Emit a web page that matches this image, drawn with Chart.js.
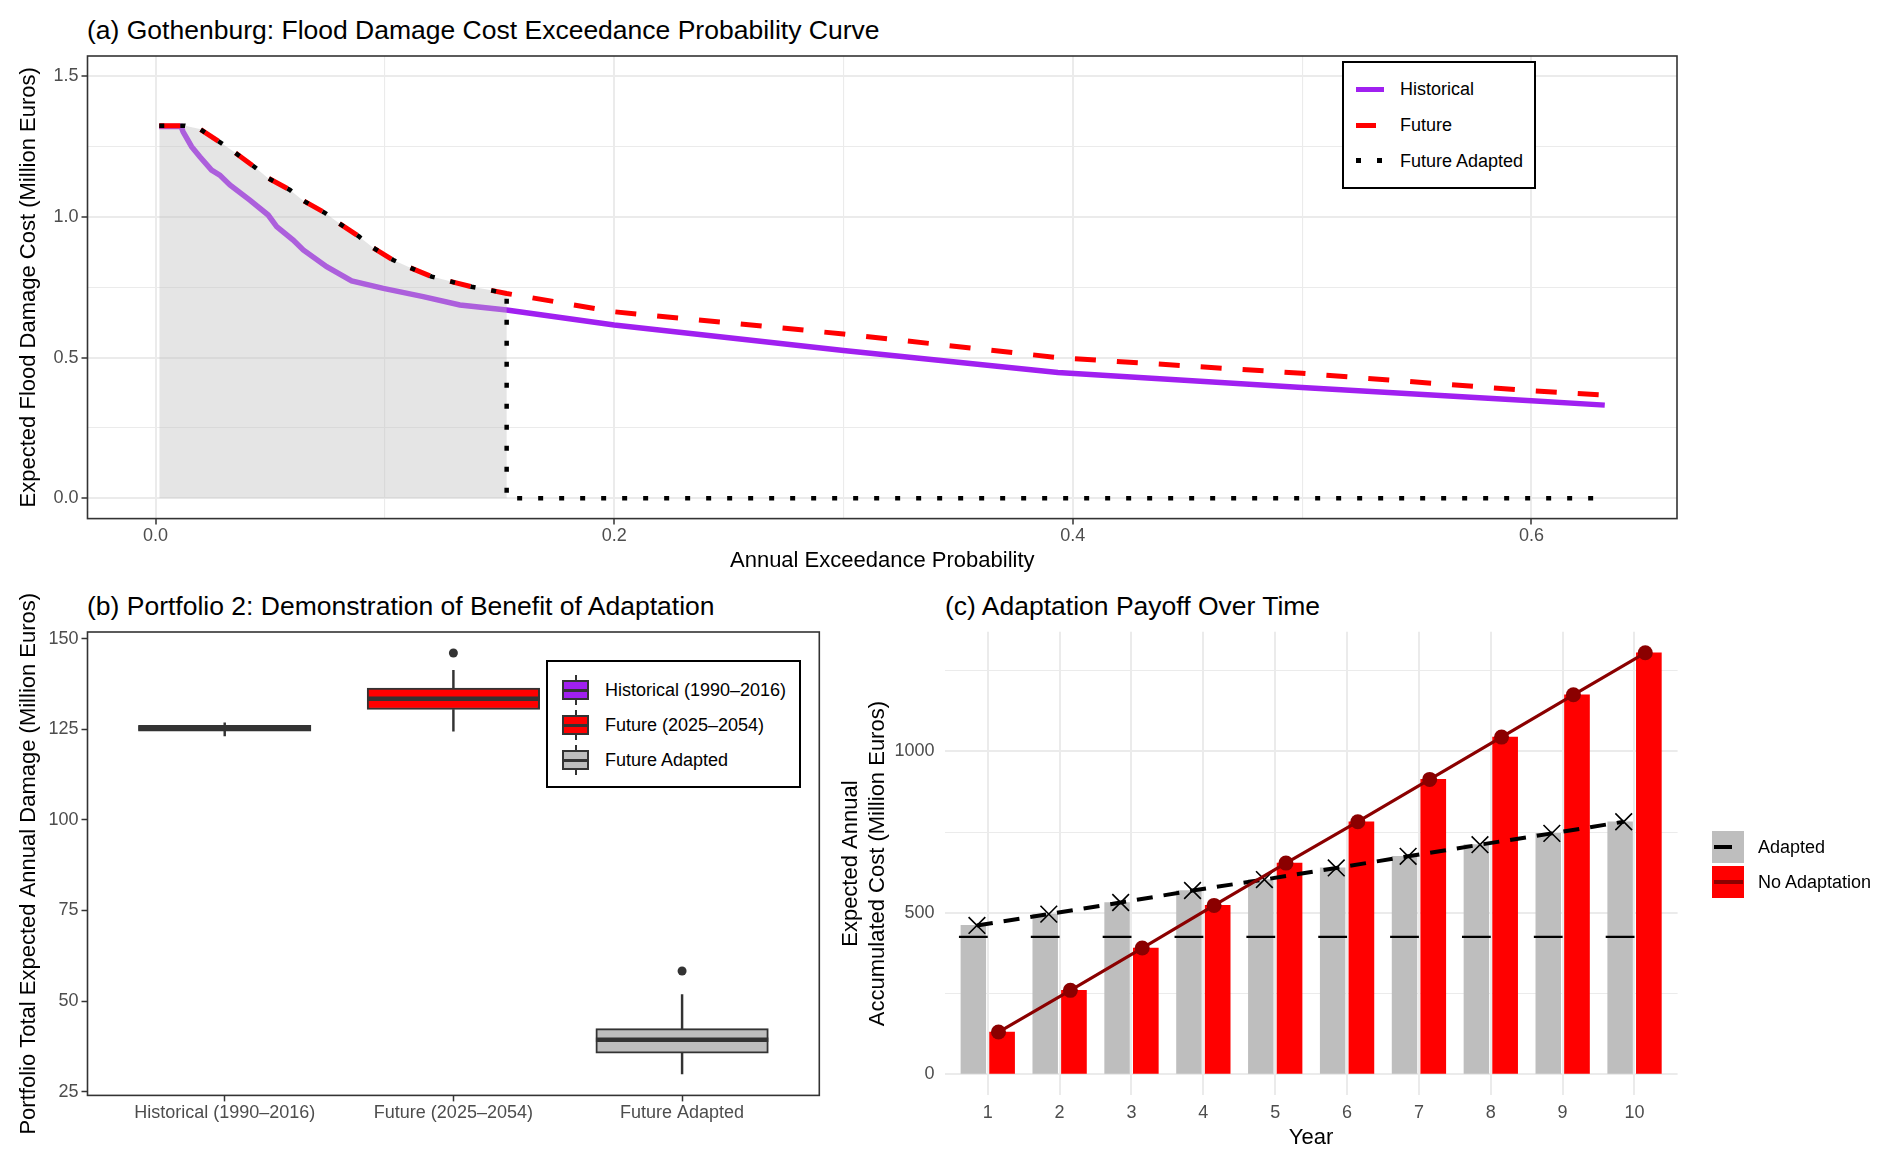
<!DOCTYPE html>
<html><head><meta charset="utf-8">
<script src="https://cdn.jsdelivr.net/npm/chart.js@4.4.1/dist/chart.umd.min.js"></script>
<style>
html,body{margin:0;padding:0;background:#fff;}
body{width:1892px;height:1164px;position:relative;overflow:hidden;font-family:"Liberation Sans",Arial,Helvetica,sans-serif;}
canvas{position:absolute;}
.t{position:absolute;font-size:26.5px;line-height:30px;white-space:nowrap;color:#000;}
.leg{position:absolute;border:2px solid #000;box-sizing:border-box;background:#fff;}
.lt{position:absolute;font-size:18px;line-height:20px;white-space:nowrap;color:#000;}
.k{position:absolute;box-sizing:border-box;}
</style></head><body>
<div class="t" style="left:87px;top:15px">(a) Gothenburg: Flood Damage Cost Exceedance Probability Curve</div>
<div class="t" style="left:87px;top:591px">(b) Portfolio 2: Demonstration of Benefit of Adaptation</div>
<div class="t" style="left:945px;top:591px">(c) Adaptation Payoff Over Time</div>
<canvas id="ca" width="1700" height="580" style="left:0;top:0"></canvas>
<canvas id="cb" width="840" height="579" style="left:0;top:585px"></canvas>
<canvas id="cc" width="1092" height="553" style="left:800px;top:611.2px"></canvas>

<!-- legend (a) -->
<div class="leg" style="left:1342px;top:61px;width:194px;height:128px"></div>
<div class="k" style="left:1356px;top:86.5px;width:28px;height:5px;background:#A020F0"></div>
<div class="k" style="left:1356px;top:122.5px;width:20px;height:5px;background:#FF0000"></div>
<div class="k" style="left:1356px;top:158px;width:5px;height:5px;background:#000"></div>
<div class="k" style="left:1377px;top:158px;width:5px;height:5px;background:#000"></div>
<div class="lt" style="left:1400px;top:79px">Historical</div>
<div class="lt" style="left:1400px;top:115px">Future</div>
<div class="lt" style="left:1400px;top:151px">Future Adapted</div>

<!-- legend (b) -->
<div class="leg" style="left:546px;top:660px;width:255px;height:128px"></div>
<div class="k" style="left:574.5px;top:675px;width:2px;height:30px;background:#333"></div>
<div class="k" style="left:561.7px;top:680px;width:27.6px;height:20px;background:#A020F0;border:2px solid #333"></div>
<div class="k" style="left:561.7px;top:688.5px;width:27.6px;height:3px;background:#333"></div>
<div class="k" style="left:574.5px;top:710px;width:2px;height:30px;background:#333"></div>
<div class="k" style="left:561.7px;top:715px;width:27.6px;height:20px;background:#FF0000;border:2px solid #333"></div>
<div class="k" style="left:561.7px;top:723.5px;width:27.6px;height:3px;background:#333"></div>
<div class="k" style="left:574.5px;top:745px;width:2px;height:30px;background:#333"></div>
<div class="k" style="left:561.7px;top:750px;width:27.6px;height:20px;background:#BEBEBE;border:2px solid #333"></div>
<div class="k" style="left:561.7px;top:758.5px;width:27.6px;height:3px;background:#333"></div>
<div class="lt" style="left:605px;top:680px">Historical (1990–2016)</div>
<div class="lt" style="left:605px;top:715px">Future (2025–2054)</div>
<div class="lt" style="left:605px;top:750px">Future Adapted</div>

<!-- legend (c) -->
<div class="k" style="left:1712px;top:831px;width:32px;height:31.5px;background:#BEBEBE"></div>
<div class="k" style="left:1714px;top:845px;width:18px;height:3.5px;background:#000"></div>
<div class="k" style="left:1712px;top:866px;width:32px;height:31.5px;background:#FF0000"></div>
<div class="k" style="left:1714px;top:880px;width:29px;height:3.5px;background:#8B0000"></div>
<div class="lt" style="left:1758px;top:837px">Adapted</div>
<div class="lt" style="left:1758px;top:872px">No Adaptation</div>

<script>
// ---------------- DATA ----------------
// (a) exceedance probability curves
const histAEP = [0.0016, 0.0111, 0.012, 0.0157, 0.0193, 0.0244, 0.028, 0.0324, 0.0411, 0.0491, 0.0528, 0.060, 0.0644, 0.0746, 0.0855, 0.0993, 0.1167, 0.1327, 0.1531, 0.2, 0.3, 0.3935, 0.5, 0.6, 0.632];
const histCost = [1.322, 1.322, 1.303, 1.25, 1.214, 1.167, 1.149, 1.114, 1.060, 1.007, 0.966, 0.918, 0.883, 0.823, 0.773, 0.746, 0.717, 0.687, 0.669, 0.616, 0.525, 0.447, 0.394, 0.347, 0.331];
const futAEP = [0.0016, 0.0128, 0.0193, 0.0288, 0.0346, 0.0433, 0.0491, 0.0586, 0.0644, 0.0738, 0.0796, 0.0888, 0.0946, 0.1036, 0.1106, 0.1204, 0.1276, 0.1378, 0.1458, 0.1531, 0.2, 0.3, 0.3935, 0.5, 0.6, 0.632];
const futCost = [1.3247, 1.3247, 1.313, 1.262, 1.229, 1.177, 1.138, 1.096, 1.058, 1.015, 0.980, 0.930, 0.892, 0.847, 0.821, 0.788, 0.773, 0.752, 0.740, 0.728, 0.663, 0.584, 0.500, 0.444, 0.382, 0.367];
const adaptAEP = [0.0016, 0.0128, 0.0193, 0.0288, 0.0346, 0.0433, 0.0491, 0.0586, 0.0644, 0.0738, 0.0796, 0.0888, 0.0946, 0.1036, 0.1106, 0.1204, 0.1276, 0.1378, 0.1458, 0.1531, 0.1531, 0.632];
const adaptCost = [1.3247, 1.3247, 1.313, 1.262, 1.229, 1.177, 1.138, 1.096, 1.058, 1.015, 0.980, 0.930, 0.892, 0.847, 0.821, 0.788, 0.773, 0.752, 0.740, 0.728, 0, 0];
const aXMajor = [0, 0.2, 0.4, 0.6], aXLabels = ['0.0', '0.2', '0.4', '0.6'], aXMinor = [0.1, 0.3, 0.5];
const aYMajor = [0, 0.5, 1.0, 1.5], aYLabels = ['0.0', '0.5', '1.0', '1.5'], aYMinor = [0.25, 0.75, 1.25];

// (b) box plots
const boxCategories = ['Historical (1990–2016)', 'Future (2025–2054)', 'Future Adapted'];
const boxLow = [123.2, 124.5, 29.9];
const boxQ1 = [124.5, 130.5, 35.6];
const boxMedian = [125.3, 133.5, 39.3];
const boxQ3 = [126.1, 136.4, 42.4];
const boxHigh = [126.8, 141.3, 51.8];
const boxOutlier = [null, 146.1, 58.3];
const bYMajor = [25, 50, 75, 100, 125, 150], bYLabels = ['25', '50', '75', '100', '125', '150'];

// (c) payoff over time
const years = [1, 2, 3, 4, 5, 6, 7, 8, 9, 10];
const adaptedAccum = [461, 496, 532, 569, 603, 639, 675, 711, 746, 782];
const noAdaptAccum = [131, 260, 391, 523, 654, 782, 913, 1044, 1175, 1305];
const upfrontCost = [425.5, 425.5, 425.5, 425.5, 425.5, 425.5, 425.5, 425.5, 425.5, 425.5];
const cYMajor = [0, 500, 1000], cYLabels = ['0', '500', '1000'], cYMinor = [250, 750, 1250];

// ---------------- HELPERS ----------------
Chart.defaults.font.family = '"Liberation Sans", Arial, Helvetica, sans-serif';
Chart.defaults.animation = false;
const TICKFONT = {size: 18};
const TICKCOL = '#4D4D4D';
const GRIDCOL = '#EBEBEB';
const near = (a, b) => Math.abs(a - b) < 1e-9;
const isIn = (arr, v) => arr.some(m => near(m, v));
const labelFor = (majors, labels) => (v) => { const i = majors.findIndex(m => near(m, v)); return i >= 0 ? labels[i] : ''; };
const setTicks = (vals) => (scale) => { scale.ticks = vals.slice().sort((a, b) => a - b).map(v => ({value: v})); };
const xy = (xs, ys) => xs.map((x, i) => ({x: x, y: ys[i]}));

const boxBorder = {
  id: 'boxBorder',
  afterDatasetsDraw(chart, args, opts) {
    if (!opts || !opts.draw) return;
    const {ctx, chartArea: a} = chart;
    ctx.save();
    ctx.strokeStyle = opts.color; ctx.lineWidth = opts.width;
    ctx.strokeRect(a.left, a.top, a.right - a.left, a.bottom - a.top);
    ctx.restore();
  }
};

// ---------------- PANEL A ----------------
new Chart(document.getElementById('ca'), {
  type: 'line',
  data: {datasets: [
    {label: 'Historical', data: xy(histAEP, histCost), borderColor: '#A020F0', borderWidth: 5.5, pointRadius: 0, tension: 0, order: 4},
    {label: 'ribbon', data: xy(adaptAEP, adaptCost), borderColor: 'rgba(0,0,0,0)', borderWidth: 0.01, pointRadius: 0, fill: 'origin', backgroundColor: 'rgba(190,190,190,0.4)', order: 3},
    {label: 'Future', data: xy(futAEP, futCost), borderColor: '#FF0000', borderWidth: 5, borderDash: [21, 21], borderCapStyle: 'butt', pointRadius: 0, order: 2},
    {label: 'Future Adapted', data: xy(adaptAEP, adaptCost), borderColor: '#000000', borderWidth: 4.5, borderDash: [5, 16], borderCapStyle: 'butt', pointRadius: 0, order: 1}
  ]},
  options: {
    responsive: false, animation: false, events: [],
    layout: {autoPadding: false, padding: {left: 0, top: 56, right: 23, bottom: 0}},
    plugins: {legend: {display: false}, tooltip: {enabled: false}, title: {display: false},
      boxBorder: {draw: true, color: '#333333', width: 1.6}},
    scales: {
      x: {type: 'linear', min: -0.0297, max: 0.6635, offset: false,
        afterBuildTicks: setTicks(aXMajor.concat(aXMinor)),
        afterFit: (s) => { s.height = 61.4; },
        border: {display: false},
        grid: {color: GRIDCOL, lineWidth: (c) => c.tick && isIn(aXMajor, c.tick.value) ? 2 : 1.1,
          drawTicks: true, tickLength: 6, tickWidth: 1.5,
          tickColor: (c) => c.tick && isIn(aXMajor, c.tick.value) ? '#333333' : 'rgba(0,0,0,0)'},
        ticks: {autoSkip: false, maxRotation: 0, font: TICKFONT, color: TICKCOL, padding: 1, callback: labelFor(aXMajor, aXLabels)},
        title: {display: true, text: 'Annual Exceedance Probability', color: '#000', font: {size: 22}, padding: {top: 0, bottom: 5.8}}
      },
      y: {type: 'linear', min: -0.0725, max: 1.5725,
        afterBuildTicks: setTicks(aYMajor.concat(aYMinor)),
        afterFit: (s) => { s.width = 87.5; },
        border: {display: false},
        grid: {color: GRIDCOL, lineWidth: (c) => c.tick && isIn(aYMajor, c.tick.value) ? 2 : 1.1,
          drawTicks: true, tickLength: 6, tickWidth: 1.5,
          tickColor: (c) => c.tick && isIn(aYMajor, c.tick.value) ? '#333333' : 'rgba(0,0,0,0)'},
        ticks: {autoSkip: false, font: TICKFONT, color: TICKCOL, padding: 3, callback: labelFor(aYMajor, aYLabels)},
        title: {display: true, text: 'Expected Flood Damage Cost (Million Euros)', color: '#000', font: {size: 22}, padding: {top: 15.8, bottom: 0}}
      }
    }
  },
  plugins: [boxBorder]
});

// ---------------- PANEL B ----------------
const catX = boxCategories.map((c, i) => i + 1);
new Chart(document.getElementById('cb'), {
  type: 'bar',
  data: {datasets: [
    {type: 'bar', label: 'whiskerHigh', data: catX.map((x, i) => ({x: x, y: [boxQ3[i], boxHigh[i]]})), backgroundColor: '#333333', barThickness: 1.8, grouped: false, order: 5},
    {type: 'bar', label: 'whiskerLow', data: catX.map((x, i) => ({x: x, y: [boxLow[i], boxQ1[i]]})), backgroundColor: '#333333', barThickness: 1.8, grouped: false, order: 5},
    {type: 'bar', label: 'box', data: catX.map((x, i) => ({x: x, y: [boxQ1[i], boxQ3[i]]})), backgroundColor: ['#A020F0', '#FF0000', '#BEBEBE'], borderColor: '#333333', borderWidth: 2, borderSkipped: false, barThickness: 172.5, grouped: false, order: 4},
    {type: 'line', label: 'median', data: catX.map((x, i) => ({x: x, y: boxMedian[i]})), showLine: false, pointStyle: 'line', pointRadius: 86.2, pointBorderWidth: 4.5, pointBorderColor: '#333333', borderColor: '#333333', clip: false, order: 2},
    {type: 'line', label: 'outlier', data: catX.map((x, i) => ({x: x, y: boxOutlier[i]})), showLine: false, pointStyle: 'circle', pointRadius: 4.5, pointBackgroundColor: '#333333', pointBorderWidth: 0, order: 1}
  ]},
  options: {
    responsive: false, animation: false, events: [],
    layout: {autoPadding: false, padding: {left: 0, top: 47, right: 20.7, bottom: 0}},
    plugins: {legend: {display: false}, tooltip: {enabled: false}, title: {display: false},
      boxBorder: {draw: true, color: '#333333', width: 1.6}},
    scales: {
      x: {type: 'linear', min: 0.4, max: 3.6, offset: false,
        afterBuildTicks: setTicks(catX),
        afterFit: (s) => { s.height = 68.6; },
        border: {display: false},
        grid: {offset: false, drawOnChartArea: false, drawTicks: true, tickLength: 6, tickWidth: 1.5, tickColor: '#333333', color: '#333333'},
        ticks: {autoSkip: false, maxRotation: 0, font: TICKFONT, color: TICKCOL, padding: 1.3, callback: (v) => boxCategories[Math.round(v) - 1] || ''}
      },
      y: {type: 'linear', min: 23.95, max: 151.9,
        afterBuildTicks: setTicks(bYMajor),
        afterFit: (s) => { s.width = 87.5; },
        border: {display: false},
        grid: {drawOnChartArea: false, drawTicks: true, tickLength: 6, tickWidth: 1.5, tickColor: '#333333', color: '#333333'},
        ticks: {autoSkip: false, font: TICKFONT, color: TICKCOL, padding: 3, callback: labelFor(bYMajor, bYLabels)},
        title: {display: true, text: 'Portfolio Total Expected Annual Damage (Million Euros)', color: '#000', font: {size: 22}, padding: {top: 15.8, bottom: 0}}
      }
    }
  },
  plugins: [boxBorder]
});

// ---------------- PANEL C ----------------
const DODGE_BAR = 0.2, DODGE_PT = 0.15;
new Chart(document.getElementById('cc'), {
  type: 'bar',
  data: {datasets: [
    {type: 'bar', label: 'Adapted', data: years.map((y, i) => ({x: y - DODGE_BAR, y: adaptedAccum[i]})), backgroundColor: '#BEBEBE', barThickness: 24.8, grouped: false, order: 6},
    {type: 'bar', label: 'No Adaptation', data: years.map((y, i) => ({x: y + DODGE_BAR, y: noAdaptAccum[i]})), backgroundColor: '#FF0000', barThickness: 25, grouped: false, order: 6},
    {type: 'line', label: 'Upfront cost', data: years.map((y, i) => ({x: y - DODGE_BAR, y: upfrontCost[i]})), showLine: false, pointStyle: 'line', pointRadius: 14.4, pointBorderWidth: 2.3, pointBorderColor: '#000', borderColor: '#000', order: 4},
    {type: 'line', label: 'Adapted line', data: years.map((y, i) => ({x: y - DODGE_PT, y: adaptedAccum[i]})), borderColor: '#000', borderWidth: 4, borderDash: [16, 11], borderCapStyle: 'butt', tension: 0,
      pointStyle: 'crossRot', pointRadius: 11.8, pointBorderWidth: 1.6, pointBorderColor: '#000', order: 2},
    {type: 'line', label: 'No Adaptation line', data: years.map((y, i) => ({x: y + DODGE_PT, y: noAdaptAccum[i]})), borderColor: '#8B0000', borderWidth: 3.2, tension: 0,
      pointStyle: 'circle', pointRadius: 7.5, pointBackgroundColor: '#8B0000', pointBorderWidth: 0, clip: false, order: 1}
  ]},
  options: {
    responsive: false, animation: false, events: [],
    layout: {autoPadding: false, padding: {left: 0, top: 12, right: 214.4, bottom: 0}},
    plugins: {legend: {display: false}, tooltip: {enabled: false}, title: {display: false}},
    scales: {
      x: {type: 'linear', min: 0.4, max: 10.6, offset: false,
        afterBuildTicks: setTicks(years),
        afterFit: (s) => { s.height = 68.6; },
        border: {display: false},
        grid: {offset: false, color: GRIDCOL, lineWidth: 2, drawTicks: false},
        ticks: {autoSkip: false, maxRotation: 0, font: TICKFONT, color: TICKCOL, padding: 7.3, callback: (v) => String(v)},
        title: {display: true, text: 'Year', color: '#000', font: {size: 22}, padding: {top: 0, bottom: 12.8}}
      },
      y: {type: 'linear', min: -65.25, max: 1370,
        afterBuildTicks: setTicks(cYMajor.concat(cYMinor)),
        afterFit: (s) => { s.width = 144.6; },
        border: {display: false},
        grid: {color: GRIDCOL, lineWidth: (c) => c.tick && isIn(cYMajor, c.tick.value) ? 2 : 1.1, drawTicks: false},
        ticks: {autoSkip: false, font: TICKFONT, color: TICKCOL, padding: 10, callback: labelFor(cYMajor, cYLabels)},
        title: {display: true, text: ['Expected Annual', 'Accumulated Cost (Million Euros)'], color: '#000', font: {size: 22, lineHeight: 1.23}, padding: {top: 37.2, bottom: 0}}
      }
    }
  }
});
</script>
</body></html>
